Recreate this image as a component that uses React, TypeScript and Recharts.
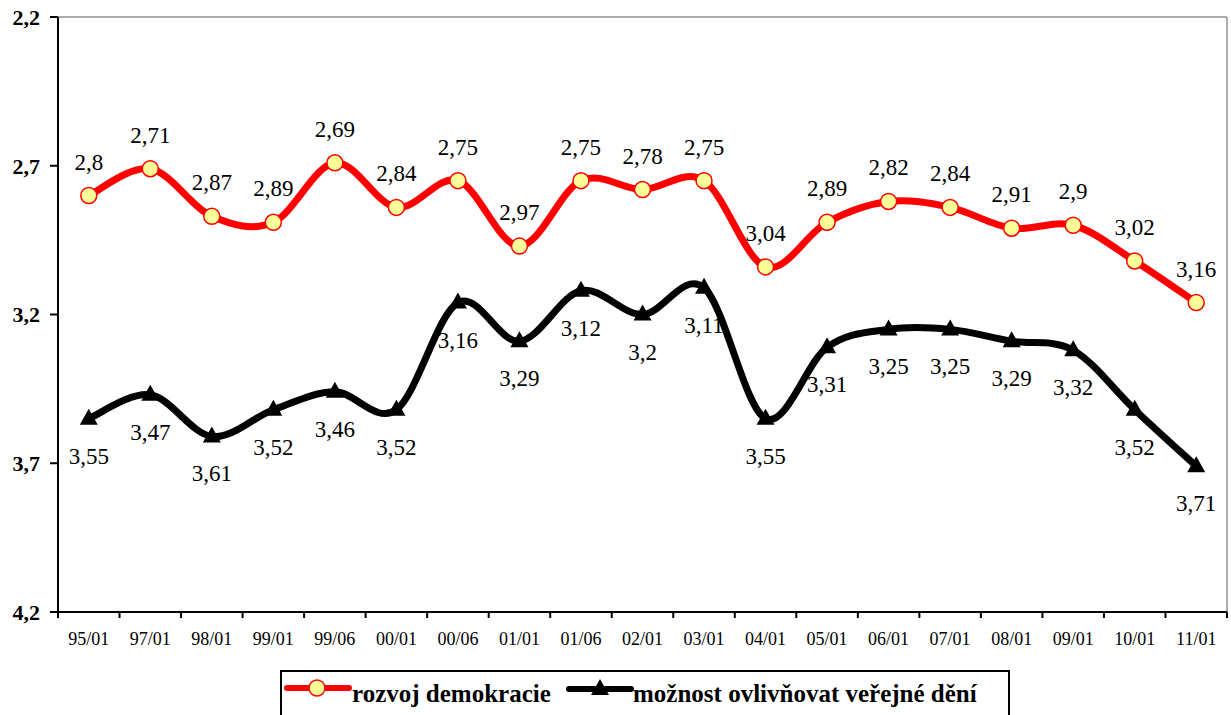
import React from 'react';
import { LineChart, Line, XAxis, YAxis, LabelList } from 'recharts';

const categories = ['95/01', '97/01', '98/01', '99/01', '99/06', '00/01', '00/06', '01/01', '01/06', '02/01', '03/01', '04/01', '05/01', '06/01', '07/01', '08/01', '09/01', '10/01', '11/01'];
const demokracie = [2.8, 2.71, 2.87, 2.89, 2.69, 2.84, 2.75, 2.97, 2.75, 2.78, 2.75, 3.04, 2.89, 2.82, 2.84, 2.91, 2.9, 3.02, 3.16];
const ovlivnovat = [3.55, 3.47, 3.61, 3.52, 3.46, 3.52, 3.16, 3.29, 3.12, 3.2, 3.11, 3.55, 3.31, 3.25, 3.25, 3.29, 3.32, 3.52, 3.71];
const yTicks = [2.2, 2.7, 3.2, 3.7, 4.2];
const seriesNames = ['rozvoj demokracie', 'možnost ovlivňovat veřejné dění'];

const data = categories.map((c, i) => ({ period: c, a: demokracie[i], b: ovlivnovat[i] }));

const SERIF = "'Liberation Serif', 'Times New Roman', serif";
const RED = '#FF0000';
const YELLOW = '#FFFF99';
const PLOT_W = 1169;
const HALF_BAND = PLOT_W / categories.length / 2;

const fmt = (v: number) => String(v).replace('.', ',');
const fmtTick = (v: number) => v.toFixed(1).replace('.', ',');

// Excel-like smoothed line (Catmull-Rom as cubic Bezier)
const excelCurve: any = (context: any) => {
  let pts: [number, number][] = [];
  return {
    areaStart() {},
    areaEnd() {},
    lineStart() {
      pts = [];
    },
    lineEnd() {
      const n = pts.length;
      if (!n) return;
      context.moveTo(pts[0][0], pts[0][1]);
      if (n === 1) return;
      const t = 1 / 6;
      for (let i = 0; i < n - 1; i++) {
        const p0 = pts[Math.max(i - 1, 0)];
        const p1 = pts[i];
        const p2 = pts[i + 1];
        const p3 = pts[Math.min(i + 2, n - 1)];
        const c1x = p1[0] + (p2[0] - p0[0]) * t;
        const c1y = p1[1] + (p2[1] - p0[1]) * t;
        const c2x = p2[0] - (p3[0] - p1[0]) * t;
        const c2y = p2[1] - (p3[1] - p1[1]) * t;
        context.bezierCurveTo(c1x, c1y, c2x, c2y, p2[0], p2[1]);
      }
    },
    point(x: number, y: number) {
      pts.push([+x, +y]);
    },
  };
};

const CircleDot = (p: any) => {
  if (p.cx == null || p.cy == null) return <g />;
  return <circle cx={p.cx} cy={p.cy} r={8} fill={YELLOW} stroke={RED} strokeWidth={1.5} />;
};

const TriangleDot = (p: any) => {
  if (p.cx == null || p.cy == null) return <g />;
  const { cx, cy } = p;
  return <polygon points={`${cx},${cy - 10} ${cx - 9},${cy + 6} ${cx + 9},${cy + 6}`} fill="#000" />;
};

const TopLabel = (p: any) => (
  <text x={p.x} y={p.y - 26} textAnchor="middle" fontSize={23} fontFamily={SERIF} fill="#000">
    {fmt(p.value)}
  </text>
);

const BottomLabel = (p: any) => (
  <text x={p.x} y={p.y + 45} textAnchor="middle" fontSize={23} fontFamily={SERIF} fill="#000">
    {fmt(p.value)}
  </text>
);

const XTick = (props: any) => {
  const { x, y, payload, index } = props;
  const last = index === categories.length - 1;
  return (
    <g>
      <line x1={x - HALF_BAND} x2={x - HALF_BAND} y1={y} y2={y + 6} stroke="#000" strokeWidth={2} />
      {last && <line x1={x + HALF_BAND} x2={x + HALF_BAND} y1={y} y2={y + 6} stroke="#000" strokeWidth={2} />}
      <text x={x} y={y + 33} textAnchor="middle" fontSize={18} fontFamily={SERIF} fill="#000">
        {payload.value}
      </text>
    </g>
  );
};

const LegendBox = () => (
  <svg
    width={732}
    height={50}
    style={{ position: 'absolute', left: 279, top: 669, overflow: 'visible' }}
  >
    <rect x={2} y={2} width={728} height={70} fill="#fff" stroke="#000" strokeWidth={2} />
    <line x1={8} x2={70} y1={19} y2={19} stroke={RED} strokeWidth={6} strokeLinecap="round" />
    <circle cx={38} cy={19} r={8} fill={YELLOW} stroke={RED} strokeWidth={1.5} />
    <text x={73} y={33} fontSize={25} fontWeight="bold" fontFamily={SERIF} fill="#000">
      {seriesNames[0]}
    </text>
    <line x1={290} x2={352} y1={20} y2={20} stroke="#000" strokeWidth={6} strokeLinecap="round" />
    <polygon points="321,10 312,26 330,26" fill="#000" />
    <text x={354} y={33} fontSize={25} fontWeight="bold" fontFamily={SERIF} fill="#000">
      {seriesNames[1]}
    </text>
  </svg>
);

export default function App() {
  return (
    <div style={{ position: 'absolute', left: 0, top: 0, width: 1231, height: 715, overflow: 'hidden' }}>
      <LineChart width={1231} height={715} data={data} margin={{ top: 16, right: 3, bottom: 73, left: 8 }}>
        <XAxis
          xAxisId="top"
          orientation="top"
          dataKey="period"
          height={1}
          tick={false}
          tickLine={false}
          padding={{ left: HALF_BAND, right: HALF_BAND }}
          axisLine={{ stroke: '#909090', strokeWidth: 1.5 }}
        />
        <YAxis
          yAxisId="right"
          orientation="right"
          width={1}
          domain={[2.2, 4.2]}
          reversed
          tick={false}
          tickLine={false}
          axisLine={{ stroke: '#909090', strokeWidth: 1.5 }}
        />
        <XAxis
          dataKey="period"
          height={30}
          tickSize={0}
          tickMargin={0}
          tickLine={false}
          interval={0}
          padding={{ left: HALF_BAND, right: HALF_BAND }}
          axisLine={{ stroke: '#000', strokeWidth: 2 }}
          tick={<XTick />}
        />
        <YAxis
          width={50}
          domain={[2.2, 4.2]}
          reversed
          ticks={yTicks}
          interval={0}
          tickFormatter={fmtTick}
          tickSize={8}
          tickMargin={10}
          axisLine={{ stroke: '#000', strokeWidth: 2 }}
          tickLine={{ stroke: '#000', strokeWidth: 2 }}
          tick={{ fontSize: 22, fontWeight: 'bold', fill: '#000', fontFamily: SERIF }}
        />
        <Line
          dataKey="a"
          name={seriesNames[0]}
          type={excelCurve}
          stroke={RED}
          strokeWidth={7}
          dot={<CircleDot />}
          activeDot={false}
          isAnimationActive={false}
        >
          <LabelList dataKey="a" content={<TopLabel />} />
        </Line>
        <Line
          dataKey="b"
          name={seriesNames[1]}
          type={excelCurve}
          stroke="#000"
          strokeWidth={7}
          dot={<TriangleDot />}
          activeDot={false}
          isAnimationActive={false}
        >
          <LabelList dataKey="b" content={<BottomLabel />} />
        </Line>
      </LineChart>
      <LegendBox />
    </div>
  );
}
